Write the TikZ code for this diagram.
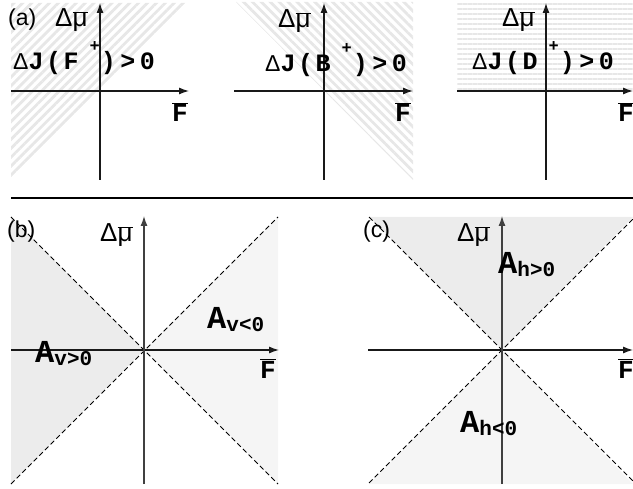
\documentclass[tikz,border=0pt]{standalone}
\usepackage{fontspec}
\setmainfont{Liberation Sans}
\newfontfamily\monob{Liberation Mono}
\newfontfamily\monosp{Liberation Mono}[LetterSpace=10]
\newfontfamily\monowide{Liberation Mono}[LetterSpace=18]
\usetikzlibrary{arrows.meta,patterns.meta}
% label macros
\newcommand{\dmu}{{\fontsize{26bp}{28bp}\selectfont Δ$\overline{\mbox{μ}}$}}
\newcommand{\Fbar}{{\fontsize{26bp}{26bp}\selectfont$\overline{\mbox{\monob\bfseries F}}$}}
\newcommand{\psup}{\raisebox{18bp}{\monob\bfseries\fontsize{17bp}{17bp}\selectfont +}}
\newcommand{\condJ}[1]{{\fontsize{23bp}{24bp}\selectfont Δ}{\monosp\bfseries J(#1}\hspace{11bp}\psup\hspace{1bp}{\monowide\bfseries )>0}}
\newcommand{\areaA}[1]{{\monob\bfseries A\raisebox{-3bp}{\fontsize{21bp}{21bp}\selectfont #1}}}

\begin{document}
\begin{tikzpicture}[x=1bp,y=-1bp,
  axis/.style={line width=1.2bp,draw=black!90,-{Latex[length=10bp,width=7bp]}},
  bound/.style={dash pattern=on 5bp off 3bp,line width=0.9bp},
  lab/.style={anchor=base west,inner sep=0pt,font=\fontsize{23bp}{26bp}\selectfont},
  cond/.style={anchor=base west,inner sep=0pt,font=\fontsize{25bp}{27bp}\selectfont},
  area/.style={anchor=base west,inner sep=0pt,font=\fontsize{32bp}{32bp}\selectfont},
  dark/.style={fill=gray!15},
  light/.style={fill=gray!8},
  stripes/.style={pattern={Lines[angle=#1,distance=6.3bp,line width=2.8bp]},pattern color=gray!19}
]
\useasboundingbox (0,0) rectangle (633,489);

% (a) three sign regions
\fill[stripes=45] (11,3) -- (188,3) -- (11,180) -- cycle;
\fill[stripes=-45] (236,2) -- (413,2) -- (413,180) -- cycle;
\fill[pattern={Lines[angle=0,distance=5bp,line width=2.4bp]},pattern color=gray!19] (457,3) rectangle (633,90);

\coordinate (a-w) at (11,91);  \coordinate (a-e) at (189,91);
\coordinate (a-s) at (100,180); \coordinate (a-n) at (100,3);
\coordinate (b-w) at (234,91); \coordinate (b-e) at (413,91);
\coordinate (b-s) at (324,180); \coordinate (b-n) at (324,3);
\coordinate (d-w) at (457,91); \coordinate (d-e) at (633,91);
\coordinate (d-s) at (546,180); \coordinate (d-n) at (546,3);
\draw[axis] (a-w) -- (a-e);
\draw[axis] (a-s) -- (a-n);
\draw[axis] (b-w) -- (b-e);
\draw[axis] (b-s) -- (b-n);
\draw[axis] (d-w) -- (d-e);
\draw[axis] (d-s) -- (d-n);

\node[lab] (tagA) at (8,26) {(a)};
\node[lab] (muA) at (55,27) {\dmu};
\node[cond] (JF) at (13,70) {\condJ{F}};
\node[lab] (FA) at (172,122) {\Fbar};
\node[lab] (muB) at (278,28) {\dmu};
\node[cond] (JB) at (265,72) {\condJ{B}};
\node[lab] (FB) at (395,122) {\Fbar};
\node[lab] (muD) at (502,27) {\dmu};
\node[cond] (JD) at (472,70) {\condJ{D}};
\node[lab] (FD) at (618,122) {\Fbar};

% separator
\coordinate (sep-w) at (11,198); \coordinate (sep-e) at (633,198);
\draw[line width=2.5bp] (sep-w) -- (sep-e);

% (b) vertical areas
\coordinate (Ob) at (144,350);
\fill[dark] (11,217) -- (Ob) -- (11,484) -- cycle;
\fill[light] (278,217) -- (Ob) -- (278,484) -- cycle;
\coordinate (b-nw) at (11,217); \coordinate (b-se) at (278,484);
\coordinate (b-sw) at (11,484); \coordinate (b-ne) at (278,217);
\draw[bound] (b-nw) -- (b-se);
\draw[bound] (b-sw) -- (b-ne);
\coordinate (bx-w) at (11,350); \coordinate (bx-e) at (279,350);
\coordinate (by-s) at (144,484); \coordinate (by-n) at (144,216);
\draw[axis] (bx-w) -- (bx-e);
\draw[axis,draw=black!75] (by-s) -- (by-n);

\node[lab] (tagB) at (7,238) {(b)};
\node[lab] (muVb) at (100,242) {\dmu};
\node[area] (Avn) at (207,328) {\areaA{v<0}};
\node[area] (Avp) at (35,362) {\areaA{v>0}};
\node[lab] (FVb) at (260,378) {\Fbar};

% (c) horizontal areas
\coordinate (Oc) at (502,350);
\fill[dark] (369,217) -- (633,217) -- (Oc) -- cycle;
\fill[light] (369,484) -- (633,484) -- (Oc) -- cycle;
\coordinate (c-nw) at (369,217); \coordinate (c-se) at (633,481);
\coordinate (c-sw) at (369,483); \coordinate (c-ne) at (633,219);
\draw[bound] (c-nw) -- (c-se);
\draw[bound] (c-sw) -- (c-ne);
\coordinate (cx-w) at (368,350); \coordinate (cx-e) at (633,350);
\coordinate (cy-s) at (502,484); \coordinate (cy-n) at (502,216);
\draw[axis] (cx-w) -- (cx-e);
\draw[axis,draw=black!75] (cy-s) -- (cy-n);

\node[lab] (tagC) at (363,238) {(c)};
\node[lab] (muHc) at (457,242) {\dmu};
\node[area] (Ahp) at (498,273) {\areaA{h>0}};
\node[area] (Ahn) at (460,432) {\areaA{h<0}};
\node[lab] (FHc) at (618,378) {\Fbar};
\end{tikzpicture}
\end{document}
